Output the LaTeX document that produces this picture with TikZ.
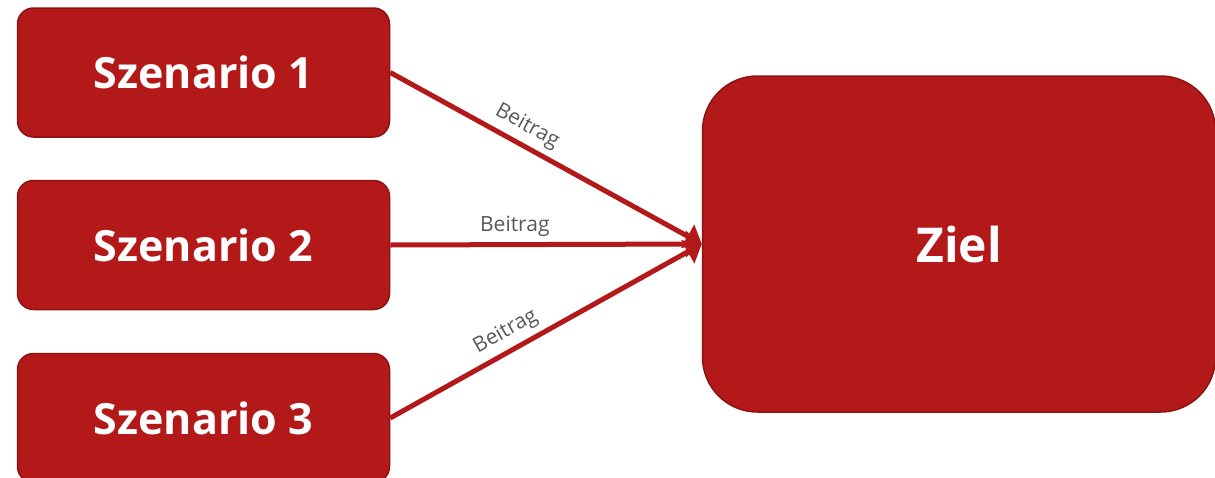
\documentclass[tikz,border=0pt]{standalone}
\usepackage{fontspec}
\setmainfont{Open Sans}
\usetikzlibrary{arrows.meta}
\definecolor{boxred}{HTML}{B31919}
\definecolor{boxedge}{HTML}{8E1212}
\definecolor{labgray}{HTML}{595959}
\tikzset{
  scenbox/.style={draw=boxedge, line width=1.5pt, fill=boxred, rounded corners=16pt,
    minimum width=372pt, minimum height=129pt, inner sep=0pt,
    text=white, font=\fontsize{43}{50}\selectfont\bfseries},
  goalbox/.style={draw=boxedge, line width=1.5pt, fill=boxred, rounded corners=55pt,
    minimum width=513pt, minimum height=336pt, inner sep=0pt,
    text=white, font=\fontsize{48}{54}\selectfont\bfseries},
  contrib/.style={draw=boxred, line width=5pt, -{Triangle[length=16pt,width=26pt]}},
  lab/.style={text=labgray, font=\fontsize{21}{24}\selectfont, inner sep=6pt}
}
\begin{document}
\begin{tikzpicture}[x=1pt,y=-1pt]
\useasboundingbox (0,0) rectangle (1215,477);
\clip (0,0) rectangle (1215,477);
\node[scenbox] (s1) at (203.5,72.5) {Szenario 1};
\node[scenbox] (s2) at (203.5,245) {Szenario 2};
\node[scenbox] (s3) at (203.5,418) {Szenario 3};
\node[goalbox] (z) at (959,244) {Ziel};
\draw[contrib] (s1.east) -- (z.west) node[lab, pos=0.41, sloped, above] {Beitrag};
\draw[contrib] (s2.east) -- (z.west) node[lab, pos=0.40, above] {Beitrag};
\draw[contrib] (s3.east) -- (z.west) node[lab, pos=0.40, sloped, above] {Beitrag};
\end{tikzpicture}
\end{document}
